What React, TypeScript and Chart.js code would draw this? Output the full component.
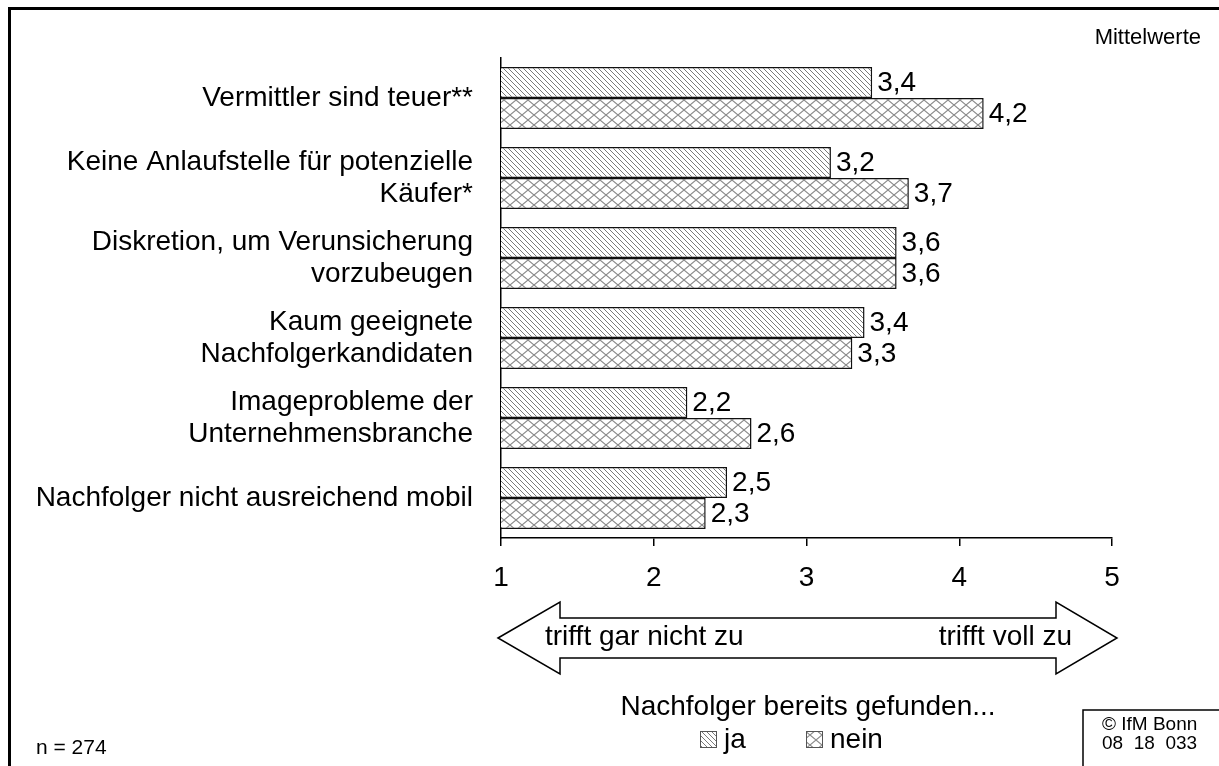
import React, { useEffect, useRef } from "react";
import { Chart, registerables } from "chart.js";

Chart.register(...registerables);

const FONT = '"Liberation Sans", Arial, Helvetica, sans-serif';

const categories: (string | string[])[] = [
  "Vermittler sind teuer**",
  ["Keine Anlaufstelle für potenzielle", "Käufer*"],
  ["Diskretion, um Verunsicherung", "vorzubeugen"],
  ["Kaum geeignete", "Nachfolgerkandidaten"],
  ["Imageprobleme der", "Unternehmensbranche"],
  "Nachfolger nicht ausreichend mobil",
];
const jaValues = [3.43, 3.16, 3.59, 3.38, 2.22, 2.48];
const neinValues = [4.16, 3.67, 3.59, 3.3, 2.64, 2.34];
const seriesLabels = ["ja", "nein"];
const xTicks = [1, 2, 3, 4, 5];
const legendTitle = "Nachfolger bereits gefunden...";
const arrowLeftText = "trifft gar nicht zu";
const arrowRightText = "trifft voll zu";
const unitText = "Mittelwerte";
const nText = "n = 274";
const sourceLines = ["© IfM Bonn", "08  18  033"];

function makeDiag(): CanvasPattern {
  const c = document.createElement("canvas");
  c.width = 10;
  c.height = 10;
  const g = c.getContext("2d")!;
  g.fillStyle = "#fff";
  g.fillRect(0, 0, 10, 10);
  g.strokeStyle = "#7a7a7a";
  g.lineWidth = 1;
  for (let k = -10; k <= 10; k += 5) {
    g.beginPath();
    g.moveTo(k - 1, -1);
    g.lineTo(k + 11, 11);
    g.stroke();
  }
  return g.createPattern(c, "repeat")!;
}

function makeCross(): CanvasPattern {
  const W = 12;
  const H = 10;
  const c = document.createElement("canvas");
  c.width = W;
  c.height = H;
  const g = c.getContext("2d")!;
  g.fillStyle = "#fff";
  g.fillRect(0, 0, W, H);
  g.strokeStyle = "#8a8a8a";
  g.lineWidth = 1.1;
  g.beginPath();
  g.moveTo(-1.2, -1);
  g.lineTo(W + 1.2, H + 1);
  g.moveTo(-1.2, H + 1);
  g.lineTo(W + 1.2, -1);
  g.stroke();
  return g.createPattern(c, "repeat")!;
}

function fmt(v: number): string {
  return v.toFixed(1).replace(".", ",");
}

export default function App() {
  const ref = useRef<HTMLCanvasElement | null>(null);

  useEffect(() => {
    const canvas = ref.current;
    if (!canvas) return;
    const diag = makeDiag();
    const cross = makeCross();
    const patterns = [diag, cross];

    const decor = {
      id: "decor",
      afterDatasetsDraw(chart: any) {
        const ctx = chart.ctx as CanvasRenderingContext2D;
        ctx.save();
        ctx.fillStyle = "#000";
        ctx.font = `28px ${FONT}`;
        ctx.textAlign = "left";
        ctx.textBaseline = "middle";
        chart.data.datasets.forEach((ds: any, di: number) => {
          const meta = chart.getDatasetMeta(di);
          meta.data.forEach((el: any, i: number) => {
            ctx.fillText(fmt(ds.data[i]), el.x + 5, el.y + 1);
          });
        });
        ctx.restore();
      },
      afterDraw(chart: any) {
        const ctx = chart.ctx as CanvasRenderingContext2D;
        ctx.save();
        // frame (top + left)
        ctx.fillStyle = "#000";
        ctx.fillRect(8, 7, 1219, 3);
        ctx.fillRect(8, 7, 3, 766);

        // Mittelwerte
        ctx.font = `22px ${FONT}`;
        ctx.textAlign = "right";
        ctx.textBaseline = "middle";
        ctx.fillText(unitText, 1201, 38);

        // Arrow
        ctx.beginPath();
        ctx.moveTo(498, 638);
        ctx.lineTo(560, 602);
        ctx.lineTo(560, 618);
        ctx.lineTo(1056, 618);
        ctx.lineTo(1056, 602);
        ctx.lineTo(1117, 638);
        ctx.lineTo(1056, 674);
        ctx.lineTo(1056, 658);
        ctx.lineTo(560, 658);
        ctx.lineTo(560, 674);
        ctx.closePath();
        ctx.fillStyle = "#fff";
        ctx.fill();
        ctx.strokeStyle = "#000";
        ctx.lineWidth = 1.5;
        ctx.stroke();

        ctx.fillStyle = "#000";
        ctx.font = `28px ${FONT}`;
        ctx.textAlign = "left";
        ctx.fillText(arrowLeftText, 545, 637);
        ctx.textAlign = "right";
        ctx.fillText(arrowRightText, 1072, 637);

        // legend title
        ctx.textAlign = "center";
        ctx.fillText(legendTitle, 808, 707);

        // legend items
        const items = [
          { x: 700, tx: 724 },
          { x: 806, tx: 830 },
        ];
        items.forEach((it, i) => {
          ctx.fillStyle = patterns[i];
          ctx.fillRect(it.x, 731, 17, 17);
          ctx.strokeStyle = "#555";
          ctx.lineWidth = 1;
          ctx.strokeRect(it.x + 0.5, 731.5, 16, 16);
          ctx.fillStyle = "#000";
          ctx.textAlign = "left";
          ctx.font = `28px ${FONT}`;
          ctx.fillText(seriesLabels[i], it.tx, 740);
        });

        // n = 274
        ctx.font = `21px ${FONT}`;
        ctx.textAlign = "left";
        ctx.fillText(nText, 36, 748);

        // source box
        ctx.strokeStyle = "#000";
        ctx.lineWidth = 1.5;
        ctx.beginPath();
        ctx.moveTo(1083, 770);
        ctx.lineTo(1083, 710);
        ctx.lineTo(1225, 710);
        ctx.stroke();
        ctx.font = `19px ${FONT}`;
        ctx.textAlign = "left";
        ctx.fillText(sourceLines[0], 1102, 725);
        ctx.fillText(sourceLines[1], 1102, 744);
        ctx.restore();
      },
    };

    const chart = new Chart(canvas, {
      type: "bar",
      data: {
        labels: categories as any,
        datasets: [
          {
            label: seriesLabels[0],
            data: jaValues,
            backgroundColor: diag as any,
            borderColor: "#111",
            borderWidth: 1.5,
            borderSkipped: false,
          },
          {
            label: seriesLabels[1],
            data: neinValues,
            backgroundColor: cross as any,
            borderColor: "#111",
            borderWidth: 1.5,
            borderSkipped: false,
          },
        ],
      },
      options: {
        responsive: false,
        animation: false,
        devicePixelRatio: 1,
        indexAxis: "y",
        layout: { padding: { top: 58, right: 107, left: 0, bottom: 0 } },
        plugins: {
          legend: { display: false },
          tooltip: { enabled: false },
        },
        datasets: {
          bar: { barPercentage: 1, categoryPercentage: 0.775 },
        },
        scales: {
          x: {
            type: "linear",
            position: "bottom",
            min: xTicks[0],
            max: xTicks[xTicks.length - 1],
            afterBuildTicks: (s: any) => {
              s.ticks = xTicks.map((v) => ({ value: v }));
            },
            ticks: {
              color: "#000",
              padding: 15,
              font: { family: FONT, size: 28 },
              callback: (v: any) => String(v),
            },
            grid: {
              drawOnChartArea: false,
              drawTicks: true,
              tickLength: 8,
              color: "#000",
              lineWidth: 1.5,
            },
            border: { display: true, color: "#000", width: 1.5 },
            afterFit: (s: any) => {
              s.height = 228;
            },
          },
          y: {
            ticks: {
              color: "#000",
              padding: 28,
              autoSkip: false,
              font: { family: FONT, size: 28, lineHeight: 1.15 },
            },
            grid: { drawOnChartArea: false, drawTicks: false },
            border: { display: true, color: "#000", width: 1.5 },
            afterFit: (s: any) => {
              s.width = 501;
            },
          },
        },
      } as any,
      plugins: [decor],
    });
    return () => chart.destroy();
  }, []);

  return (
    <div
      style={{
        position: "absolute",
        left: 0,
        top: 0,
        width: 1219,
        height: 766,
        overflow: "hidden",
        background: "#fff",
      }}
    >
      <canvas
        ref={ref}
        width={1219}
        height={766}
        style={{ display: "block", width: 1219, height: 766 }}
      />
    </div>
  );
}
